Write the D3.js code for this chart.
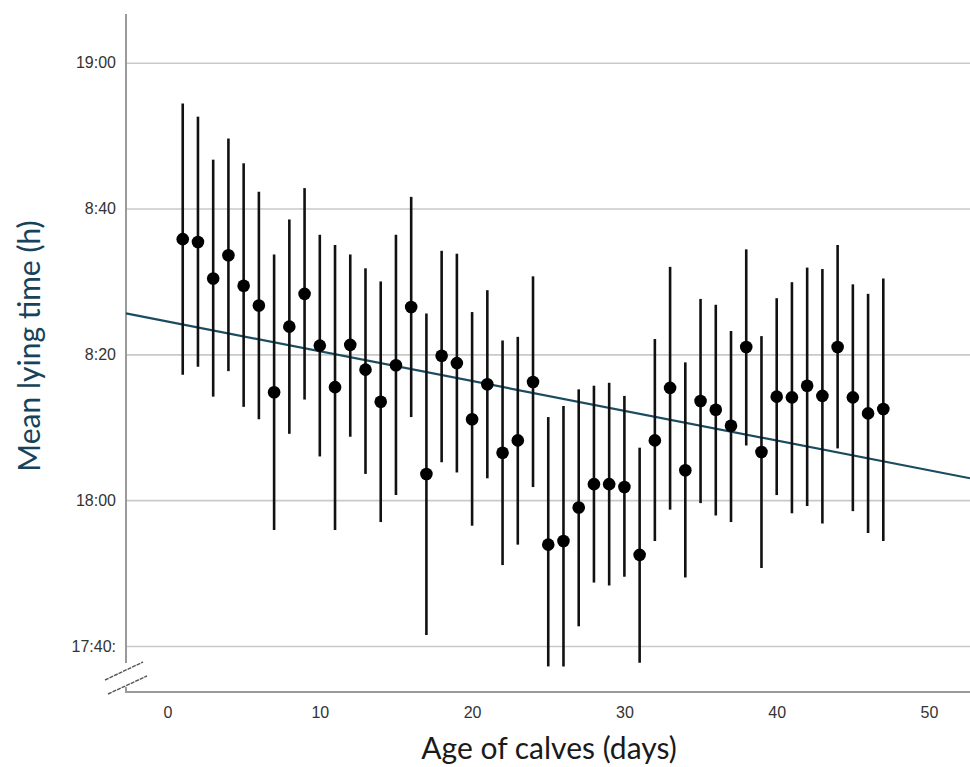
<!DOCTYPE html>
<html>
<head>
<meta charset="utf-8">
<script src="https://cdn.jsdelivr.net/npm/d3@7/dist/d3.min.js"></script>
<style>
  html, body { margin: 0; padding: 0; background: #fff; }
  svg { display: block; }
</style>
</head>
<body>
<svg id="chart" width="970" height="767"></svg>
<script>
// Age of calves (days)
const days = [1,2,3,4,5,6,7,8,9,10,11,12,13,14,15,16,17,18,19,20,21,22,23,24,
  25,26,27,28,29,30,31,32,33,34,35,36,37,38,39,40,41,42,43,44,45,46,47];

// Mean lying time, in minutes after 17:00
const meanMin = [95.8,95.4,90.4,93.6,89.4,86.7,74.8,83.8,88.3,81.2,75.5,81.3,77.9,73.5,
  78.5,86.5,63.6,79.8,78.8,71.1,75.9,66.5,68.2,76.2,53.9,54.4,59.0,62.2,62.2,61.8,
  52.5,68.2,75.4,64.1,73.6,72.4,70.2,81.0,66.6,74.2,74.1,75.7,74.3,81.0,74.1,71.9,72.5];

// Upper and lower ends of each error bar (minutes after 17:00)
const upperMin = [114.4,112.6,106.7,109.6,106.2,102.3,93.7,98.5,102.8,96.4,95.0,93.7,91.8,90.0,
  96.4,101.6,85.6,94.2,93.8,85.8,88.8,81.9,82.4,90.7,71.4,72.9,75.2,75.7,76.1,74.3,
  67.2,82.1,92.0,78.9,87.6,86.8,83.2,94.4,82.5,87.7,89.9,91.9,91.7,95.0,89.6,88.3,90.4];
const lowerMin = [77.2,78.3,74.2,77.7,72.8,71.1,55.9,69.1,73.8,66.0,55.9,68.7,63.6,57.0,
  60.7,71.4,41.5,65.2,63.8,56.5,63.0,51.1,53.9,61.8,37.2,37.2,42.7,48.7,48.3,49.5,
  37.7,54.4,58.7,49.4,59.6,57.9,57.0,67.5,50.7,60.7,58.2,59.2,56.8,67.1,58.5,55.5,54.4];

// Linear fit of lying time on age: minutes = intercept + slope * day
const fitIntercept = 84.5;
const fitSlope = -0.408;

// Axis ticks
const xTicks = [0, 10, 20, 30, 40, 50];
const yTicks = [40, 60, 80, 100, 120];
const yTickLabels = ["17:40:", "18:00", "8:20", "8:40", "19:00"];

const svg = d3.select("#chart");

const plotLeft = 126, plotRight = 970, plotTop = 14, plotBottom = 692;

const x = d3.scaleLinear().domain([0, 50]).range([167.5, 929]);
const y = d3.scaleLinear().domain([40, 120]).range([646, 62.7]);

const tickFont = "'Liberation Sans', Arial, sans-serif";
const titleFont = "Lato, 'Open Sans', sans-serif";

// Horizontal gridlines with the time labels
const yAxis = svg.append("g")
  .attr("transform", `translate(${plotLeft},0)`)
  .call(d3.axisLeft(y)
    .tickValues(yTicks)
    .tickFormat((d, i) => yTickLabels[i])
    .tickSize(-(plotRight - plotLeft))
    .tickPadding(10));
yAxis.select(".domain").remove();
yAxis.selectAll(".tick line")
  .attr("stroke", "#c9c9c9")
  .attr("stroke-width", 1.6);
yAxis.selectAll(".tick text")
  .attr("fill", "#333")
  .style("font-family", tickFont)
  .style("font-size", "16px");

// Day labels along the bottom
const xAxis = svg.append("g")
  .attr("transform", `translate(0,${plotBottom})`)
  .call(d3.axisBottom(x).tickValues(xTicks).tickSize(0).tickPadding(15));
xAxis.select(".domain").remove();
xAxis.selectAll(".tick text")
  .attr("fill", "#333")
  .style("font-family", tickFont)
  .style("font-size", "16px");

// Axis lines, the vertical one interrupted by the break mark
const axisColor = "#9a9a9a";
svg.append("line")
  .attr("x1", plotLeft).attr("x2", plotLeft).attr("y1", plotTop).attr("y2", 663)
  .attr("stroke", axisColor).attr("stroke-width", 2);
svg.append("line")
  .attr("x1", plotLeft).attr("x2", plotLeft).attr("y1", 687).attr("y2", plotBottom + 1)
  .attr("stroke", axisColor).attr("stroke-width", 2);
svg.append("line")
  .attr("x1", plotLeft - 1).attr("x2", plotRight).attr("y1", plotBottom).attr("y2", plotBottom)
  .attr("stroke", axisColor).attr("stroke-width", 2);

// Break mark: two parallel slashes
[[105, 680, 143, 662], [108, 694, 147, 676]].forEach(s => {
  svg.append("line")
    .attr("x1", s[0]).attr("y1", s[1]).attr("x2", s[2]).attr("y2", s[3])
    .attr("stroke", "#555").attr("stroke-width", 1.4)
    .attr("stroke-dasharray", "4,1");
});

// Fitted line across the whole plot width
const xMin = x.invert(plotLeft), xMax = x.invert(plotRight);
svg.append("line")
  .attr("x1", x(xMin)).attr("y1", y(fitIntercept + fitSlope * xMin))
  .attr("x2", x(xMax)).attr("y2", y(fitIntercept + fitSlope * xMax))
  .attr("stroke", "#1b4b60").attr("stroke-width", 2.2);

// Error bars
svg.append("g").selectAll("line")
  .data(days)
  .join("line")
  .attr("x1", d => x(d)).attr("x2", d => x(d))
  .attr("y1", (d, i) => y(upperMin[i]))
  .attr("y2", (d, i) => y(lowerMin[i]))
  .attr("stroke", "#111").attr("stroke-width", 2.6);

// Means
svg.append("g").selectAll("circle")
  .data(days)
  .join("circle")
  .attr("cx", d => x(d))
  .attr("cy", (d, i) => y(meanMin[i]))
  .attr("r", 6.3)
  .attr("fill", "#000");

// Axis titles
svg.append("text")
  .attr("x", 549)
  .attr("y", 759)
  .attr("text-anchor", "middle")
  .style("font-family", titleFont)
  .style("font-size", "30px")
  .attr("fill", "#1a1a1a")
  .text("Age of calves (days)");

svg.append("text")
  .attr("transform", "translate(40,346) rotate(-90)")
  .attr("text-anchor", "middle")
  .style("font-family", titleFont)
  .style("font-size", "30px")
  .attr("fill", "#17435a")
  .text("Mean lying time (h)");
</script>
</body>
</html>
